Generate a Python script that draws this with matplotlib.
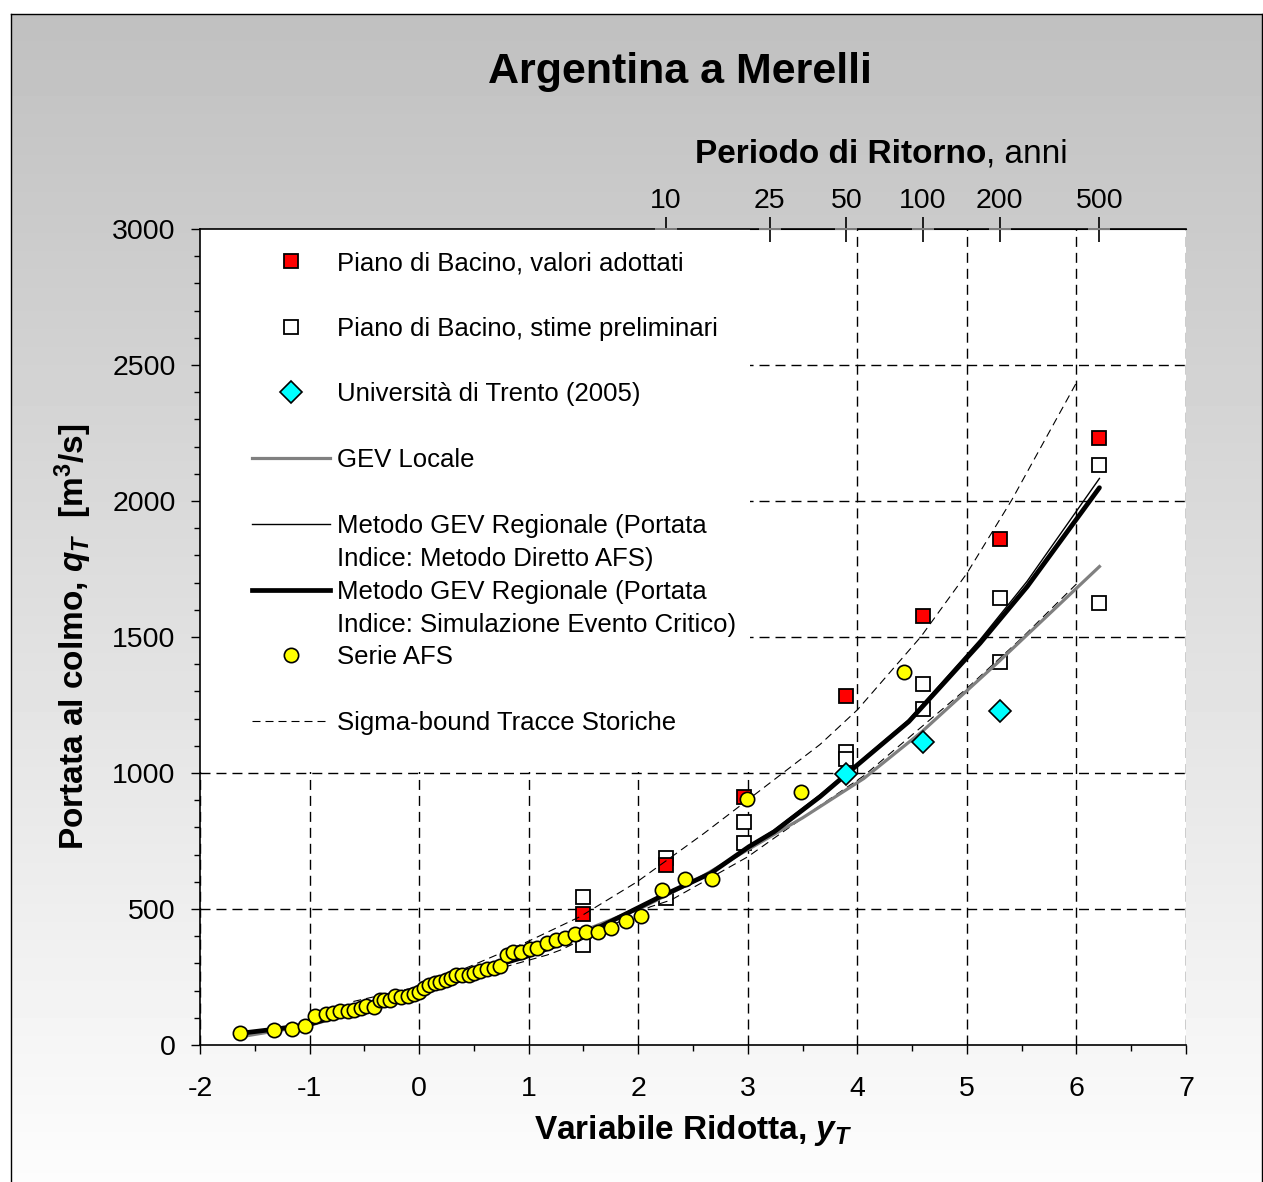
import numpy as np
import matplotlib.pyplot as plt
from matplotlib.lines import Line2D
from matplotlib.patches import Rectangle
from matplotlib.ticker import MultipleLocator

plt.rcParams['font.family'] = ['Liberation Sans', 'DejaVu Sans']
plt.rcParams['axes.unicode_minus'] = False
plt.rcParams['mathtext.fontset'] = 'custom'
plt.rcParams['mathtext.rm'] = 'Liberation Sans:bold'
plt.rcParams['mathtext.it'] = 'Liberation Sans:italic:bold'
plt.rcParams['mathtext.bf'] = 'Liberation Sans:bold'

# ------------------------------------------------------------
# dati
# ------------------------------------------------------------
# Serie AFS (variabile ridotta, portata)
AFS_Y = [-1.635, -1.322, -1.158, -1.045, -0.951, -0.851, -0.784, -0.720, -0.653, -0.593,
         -0.532, -0.483, -0.410, -0.358, -0.319, -0.264, -0.219, -0.167, -0.097, -0.051,
         0.000, 0.046, 0.091, 0.143, 0.191, 0.243, 0.289, 0.335, 0.396, 0.456,
         0.502, 0.553, 0.617, 0.684, 0.739, 0.806, 0.861, 0.927, 1.012, 1.080,
         1.164, 1.246, 1.329, 1.424, 1.526, 1.634, 1.751, 1.885, 2.029, 2.213,
         2.423, 2.669, 2.994, 3.490, 4.422]
AFS_Q = [43, 54, 60, 69, 108, 114, 119, 126, 125, 128,
         135, 143, 141, 165, 165, 164, 180, 178, 180, 188,
         196, 208, 221, 227, 232, 239, 247, 257, 257, 257,
         265, 271, 278, 284, 292, 330, 343, 343, 353, 358,
         376, 386, 392, 409, 417, 417, 431, 457, 476, 569,
         609, 609, 903, 931, 1372]

# Piano di Bacino, valori adottati (T = 5, 10, 20, 50, 100, 200, 500)
PB_ADOTT_Y = [1.50, 2.25, 2.97, 3.90, 4.60, 5.30, 6.21]
PB_ADOTT_Q = [482, 662, 913, 1282, 1577, 1861, 2232]

# Piano di Bacino, stime preliminari
PB_PREL_Y = [1.50, 1.50, 2.25, 2.25, 2.97, 2.97, 3.90, 3.90, 4.60, 4.60, 5.30, 5.30, 6.21, 6.21]
PB_PREL_Q = [543, 368, 687, 539, 819, 742, 1077, 1050, 1327, 1234, 1643, 1407, 2132, 1624]

# Università di Trento (2005)
UNITN_Y = [3.90, 4.60, 5.30]
UNITN_Q = [995, 1115, 1228]

# GEV Locale
GEV_LOC_Y = [-1.635, -1.0, -0.5, 0.0, 0.5, 1.0, 1.5, 2.05, 2.5, 3.0, 3.5, 4.06, 4.59, 5.29, 6.21]
GEV_LOC_Q = [30, 72, 130, 195, 262, 335, 420, 508, 600, 718, 835, 980, 1152, 1409, 1759]

# Metodo GEV Regionale (Portata Indice: Metodo Diretto AFS)
GEV_AFS_Y = [-1.632, -1.32, -1.02, -0.5, 0.0, 0.5, 0.99, 1.47, 2.2, 2.66, 3.01, 3.24, 3.66, 3.91, 4.47, 5.12, 5.55, 6.21]
GEV_AFS_Q = [43, 58, 74, 135, 200, 268, 327, 398, 545, 631, 732, 790, 920, 1004, 1196, 1490, 1705, 2083]

# Metodo GEV Regionale (Portata Indice: Simulazione Evento Critico)
GEV_SIM_Y = [-1.632, -1.32, -1.02, -0.5, 0.0, 0.5, 0.99, 1.47, 2.2, 2.66, 3.01, 3.24, 3.66, 3.91, 4.47, 5.12, 5.55, 6.21]
GEV_SIM_Q = [43, 58, 74, 135, 200, 268, 327, 398, 545, 631, 729, 784, 913, 999, 1189, 1477, 1685, 2049]

# Sigma-bound Tracce Storiche
SIG_SUP_Y = [-0.6, 0.0, 0.47, 0.99, 1.47, 1.99, 2.6, 3.0, 3.66, 4.0, 4.58, 5.0, 5.41, 6.0]
SIG_SUP_Q = [160, 215, 290, 380, 472, 600, 778, 901, 1105, 1232, 1501, 1734, 2004, 2435]
SIG_INF_Y = [-0.6, 0.0, 0.5, 1.17, 1.29, 2.11, 2.3, 3.0, 3.66, 4.06, 5.0, 5.49, 6.0]
SIG_INF_Q = [135, 190, 255, 331, 349, 508, 533, 692, 880, 990, 1311, 1492, 1695]

# asse superiore: periodo di ritorno
TR_POS = [2.25, 3.20, 3.90, 4.60, 5.30, 6.21]
TR_LABELS = ['10', '25', '50', '100', '200', '500']

# livelli della griglia orizzontale
GRID_Q = [500, 1000, 1500, 2000, 2500]

# ------------------------------------------------------------
W, H = 1263, 1182
fig = plt.figure(figsize=(W / 100, H / 100), dpi=100)

# sfondo sfumato con cornice
bg = fig.add_axes([11 / W, 0, (W - 12) / W, (H - 14) / H], zorder=-10)
grad = np.linspace(0.753, 0.99, 256).reshape(-1, 1)
bg.imshow(grad, aspect='auto', cmap='gray', vmin=0, vmax=1,
          extent=[0, 1, 0, 1], origin='upper')
bg.set_xticks([])
bg.set_yticks([])
bg.spines['bottom'].set_visible(False)
for s in ['top', 'left', 'right']:
    bg.spines[s].set_linewidth(1.0)

ax = fig.add_axes([200 / W, 137 / H, 986 / W, 816 / H])
ax.set_facecolor('white')
ax.set_xlim(-2, 7)
ax.set_ylim(0, 3000)
ax.set_axisbelow(True)

ax.xaxis.set_major_locator(MultipleLocator(1))
ax.xaxis.set_minor_locator(MultipleLocator(0.5))
ax.yaxis.set_major_locator(MultipleLocator(500))
ax.yaxis.set_minor_locator(MultipleLocator(100))
ax.tick_params(which='major', direction='out', length=6.5, width=1.0, labelsize=20.5)
ax.tick_params(which='minor', direction='out', length=4.5, width=1.0)
ax.tick_params(axis='x', which='major', pad=16)
ax.tick_params(axis='y', which='major', pad=11)

grid_style = dict(color='black', linestyle=(0, (7.2, 4.3)), linewidth=1.0)
ax.grid(True, axis='x', which='major', **grid_style)
for q in GRID_Q:
    ax.axhline(q, zorder=0.5, **grid_style)

ax.spines['right'].set_visible(False)
for s in ['left', 'bottom', 'top']:
    ax.spines[s].set_linewidth(1.2)

# riquadro bianco della legenda
ax.add_patch(Rectangle((0, 0.3346), 0.558, 0.6654, transform=ax.transAxes,
                       facecolor='white', edgecolor='none', zorder=1))

# serie
sq = dict(ls='none', marker='s', ms=9.6, mec='black', mew=1.3)
ax.plot(PB_PREL_Y, PB_PREL_Q, mfc='white', zorder=1.8, **sq)
ax.plot(PB_ADOTT_Y, PB_ADOTT_Q, mfc='#ff0000', zorder=1.9, **sq)

sig_style = dict(color='black', lw=0.8, ls=(0, (7.2, 4.5)), zorder=2)
ax.plot(SIG_SUP_Y, SIG_SUP_Q, **sig_style)
ax.plot(SIG_INF_Y, SIG_INF_Q, **sig_style)

ax.plot(GEV_LOC_Y, GEV_LOC_Q, color='#808080', lw=2.3, zorder=2.2)
ax.plot(GEV_SIM_Y, GEV_SIM_Q, color='black', lw=3.4, zorder=2.3,
        solid_capstyle='round', solid_joinstyle='round')
ax.plot(GEV_AFS_Y, GEV_AFS_Q, color='black', lw=1.0, zorder=2.4)

ax.plot(UNITN_Y, UNITN_Q, ls='none', marker='D', ms=11.5, mfc='#00ffff',
        mec='black', mew=1.2, zorder=3)
ax.plot(AFS_Y, AFS_Q, ls='none', marker='o', ms=10.3, mfc='#ffff00',
        mec='black', mew=1.2, zorder=4)

# asse superiore (periodo di ritorno)
sec = ax.secondary_xaxis('top')
sec.set_xticks(TR_POS, labels=TR_LABELS)
sec.tick_params(direction='inout', length=18, width=1.2, pad=1.5, labelsize=20.5)
ax.plot(TR_POS, [3000] * len(TR_POS), ls='none', marker='_', ms=16.5, mew=1.4,
        color='#808080', clip_on=False, zorder=5)

# testi
ax.set_xlabel(r'Variabile Ridotta, $y_T$', fontsize=24, fontweight='bold', labelpad=8)
ax.set_ylabel(r'Portata al colmo, $q_T$  [m$^3$/s]', fontsize=24, fontweight='bold', labelpad=13)

fig.text(0.538, 0.939, 'Argentina a Merelli', ha='center', va='center',
         fontsize=31, fontweight='bold')
t1 = fig.text(695 / W, 1 - 163 / H, 'Periodo di Ritorno', ha='left', va='baseline',
              fontsize=24, fontweight='bold')
ax.annotate(', anni', xy=(1, 0), xycoords=t1, va='bottom', ha='left', fontsize=24)

# legenda
def mk(**kw):
    return Line2D([], [], **kw)

blank = mk(ls='none')
handles = [
    mk(ls='none', marker='s', ms=9.6, mfc='#ff0000', mec='black', mew=1.3), blank,
    mk(ls='none', marker='s', ms=9.6, mfc='white', mec='black', mew=1.3), blank,
    mk(ls='none', marker='D', ms=11.5, mfc='#00ffff', mec='black', mew=1.2), blank,
    mk(color='#808080', lw=2.3), blank,
    mk(color='black', lw=1.0), blank,
    mk(color='black', lw=3.4), blank,
    mk(ls='none', marker='o', ms=10.3, mfc='#ffff00', mec='black', mew=1.2), blank,
    mk(color='black', lw=0.8, ls=(0, (7.2, 4.5))),
]
labels = [
    'Piano di Bacino, valori adottati', ' ',
    'Piano di Bacino, stime preliminari', ' ',
    'Università di Trento (2005)', ' ',
    'GEV Locale', ' ',
    'Metodo GEV Regionale (Portata', 'Indice: Metodo Diretto AFS)',
    'Metodo GEV Regionale (Portata', 'Indice: Simulazione Evento Critico)',
    'Serie AFS', ' ',
    'Sigma-bound Tracce Storiche',
]
ax.legend(handles, labels, loc='upper left', bbox_to_anchor=(0.0527, 0.973),
          frameon=False, fontsize=18.5, labelspacing=0.345, handlelength=3.03,
          handletextpad=0.27, borderpad=0, borderaxespad=0, numpoints=1)

fig.savefig('out.png', dpi=100)
